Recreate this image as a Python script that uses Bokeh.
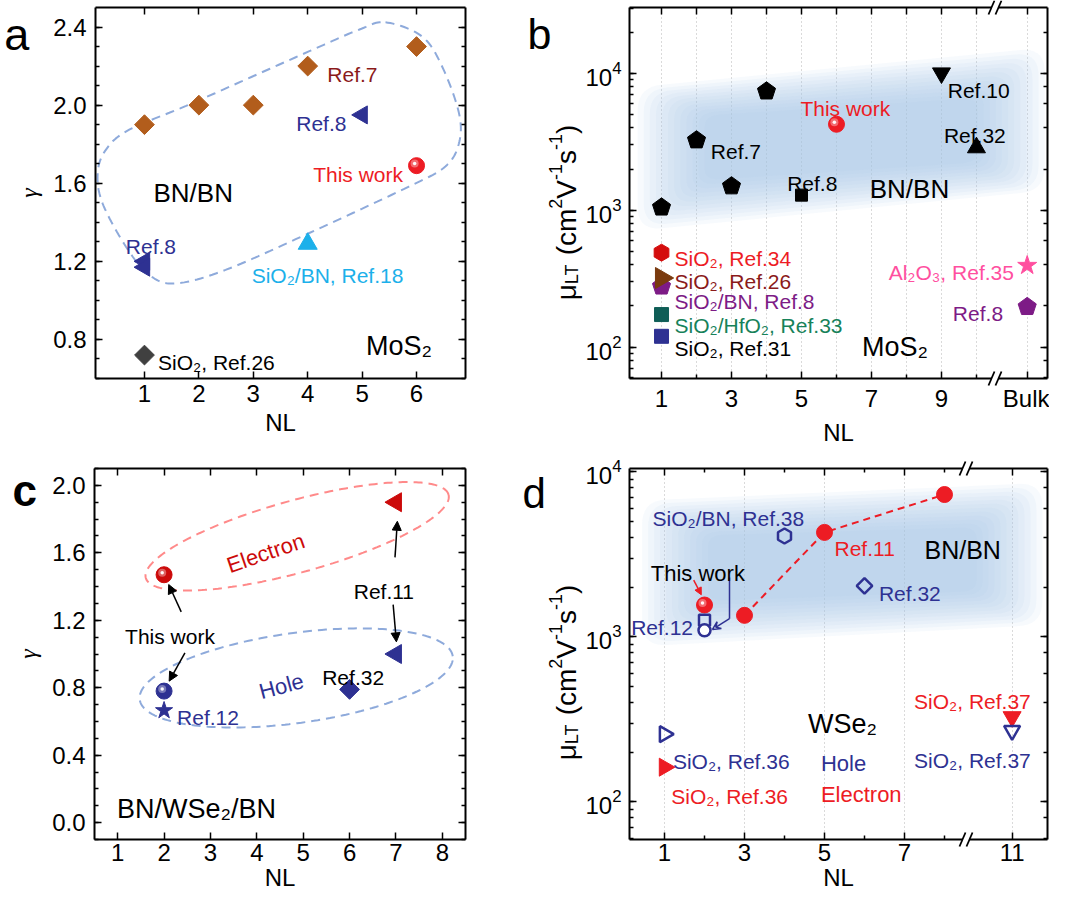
import math
import numpy as np
from bokeh.plotting import figure
from bokeh.models import (Label, Arrow, NormalHead, VeeHead, LinearAxis, LogAxis, GridBox,
                          FixedTicker, SingleIntervalTicker, NumeralTickFormatter, Range1d)
from bokeh.embed import file_html
from bokeh.resources import INLINE

FONT = "Liberation Sans"
NAVY = "#2e3192"; RED = "#ed1c24"; DRED = "#cc0a0a"; BROWN = "#b25d1c"; MAROON = "#8b1a1a"
CYAN = "#1cb0ea"; GRAY = "#404040"; PURPLE = "#7d1b86"; TEAL = "#0f5e57"; GREEN = "#17825a"
PINK = "#ff4f9f"; LOOP = "#8eaadb"; PINKLOOP = "#ff8a8a"; BROWNTRI = "#7a3a0e"; SHADE = "#a9c7e6"

# ---------------- panel a : MoS2 gamma vs NL ----------------
A_NL_REF7 = [1, 2, 3, 4, 6]
A_G_REF7 = [1.90, 2.00, 2.00, 2.20, 2.30]
A_NL_REF8 = [5, 1, 1]
A_G_REF8 = [1.95, 1.20, 1.17]
A_NL_THIS = [6]
A_G_THIS = [1.69]
A_NL_REF18 = [4]
A_G_REF18 = [1.29]
A_NL_REF26 = [1]
A_G_REF26 = [0.72]
A_XTICKS = [1, 2, 3, 4, 5, 6]

# ---------------- panel b : MoS2 mobility ----------------
B_BULK = 11.45
B_NL_REF7 = [1, 2, 3, 4]
B_MU_REF7 = [1050, 3250, 1500, 7400]
B_NL_REF8 = [5]
B_MU_REF8 = [1290]
B_NL_THIS = [6]
B_MU_THIS = [4250]
B_NL_REF10 = [9]
B_MU_REF10 = [10050]
B_NL_REF32 = [10]
B_MU_REF32 = [2870]
B_NL_REF34 = [1]
B_MU_REF34 = [490]
B_NL_REF26 = [1]
B_MU_REF26 = [320]
B_NL_REF8SB = [1, B_BULK]
B_MU_REF8SB = [278, 197]
B_NL_REF33 = [1]
B_MU_REF33 = [173]
B_NL_REF31 = [1]
B_MU_REF31 = [120]
B_NL_REF35 = [B_BULK]
B_MU_REF35 = [395]
B_XTICKS = [1, 3, 5, 7, 9, B_BULK]
B_XMINOR = [2, 4, 6, 8, 10]
B_XTOP = [1, 2, 3, 4, 5, 6, 7, 8, 9, 10, B_BULK]
B_XLABELS = {B_BULK: "Bulk"}

# ---------------- panel c : WSe2 gamma ----------------
C_NL_E_THIS = [2]
C_G_E_THIS = [1.47]
C_NL_E_REF11 = [7]
C_G_E_REF11 = [1.90]
C_NL_H_THIS = [2]
C_G_H_THIS = [0.78]
C_NL_H_REF12 = [2]
C_G_H_REF12 = [0.665]
C_NL_H_REF32 = [6]
C_G_H_REF32 = [0.79]
C_NL_H_REF11 = [7]
C_G_H_REF11 = [1.00]
C_XTICKS = [1, 2, 3, 4, 5, 6, 7, 8]

# ---------------- panel d : WSe2 mobility ----------------
D_BREAK_SHIFT = 1.31   # NL = 11 is drawn after the axis break
D_NL_E_REF11 = [3, 5, 8]
D_MU_E_REF11 = [1350, 4300, 7300]
D_NL_E_THIS = [2]
D_MU_E_THIS = [1560]
D_NL_H_REF12 = [2]
D_MU_H_REF12 = [1260]
D_NL_H_THIS = [2]
D_MU_H_THIS = [1095]
D_NL_H_REF38 = [4]
D_MU_H_REF38 = [4090]
D_NL_H_REF32 = [6]
D_MU_H_REF32 = [2040]
D_NL_H_REF36 = [1]
D_MU_H_REF36 = [257]
D_NL_E_REF36 = [1]
D_MU_E_REF36 = [162]
D_NL_E_REF37 = [11]
D_MU_E_REF37 = [327]
D_NL_H_REF37 = [11]
D_MU_H_REF37 = [270]
D_XTICKS_NL = [1, 3, 5, 7, 11]
D_XMINOR = [2, 4, 6, 8]


def dpos(nl):
    return [v - D_BREAK_SHIFT if v > 9 else v for v in nl]


# ---------------- helpers ----------------
def make_fig(w, h, xr, yr, L, R, T_, B, ylog=False):
    p = figure(width=w, height=h, x_range=Range1d(*xr), y_range=Range1d(*yr),
               y_axis_type="log" if ylog else "linear", output_backend="svg",
               toolbar_location=None, min_border_left=L, min_border_right=R,
               min_border_top=T_, min_border_bottom=B, frame_align=False)
    p.outline_line_color = None
    p.background_fill_color = "white"
    p.border_fill_color = "white"
    p.xgrid.visible = False
    p.ygrid.visible = False
    return p


def style_axis(ax, labels=True):
    ax.axis_line_width = 2
    ax.axis_line_color = "black"
    ax.major_tick_in = 7
    ax.major_tick_out = 0
    ax.minor_tick_in = 4
    ax.minor_tick_out = 0
    ax.major_tick_line_width = 1.5
    ax.minor_tick_line_width = 1.5
    ax.major_tick_line_color = "black"
    ax.minor_tick_line_color = "black"
    ax.major_label_text_font = FONT
    ax.major_label_text_font_size = "24px"
    ax.axis_label_text_font = FONT
    ax.axis_label_text_font_style = "normal"
    ax.axis_label_text_font_size = "24px"
    ax.axis_label_text_color = "black"
    if labels:
        ax.major_label_text_color = "black"
        ax.major_label_standoff = 6
    else:
        ax.major_label_text_color = None
        ax.major_label_standoff = 0


def T(p, x, y, text, color="black", size=21, align="left", angle=0.0, bold=False,
      baseline="alphabetic", x_off=0, y_off=0):
    p.add_layout(Label(x=x, y=y, text=text, text_color=color, text_font=FONT,
                       text_font_size=f"{size}px", text_align=align, text_baseline=baseline,
                       angle=angle, x_offset=x_off, y_offset=y_off,
                       text_font_style="bold" if bold else "normal"))


def sphere(p, xs, ys, color, size=16, dx=0.0, fy=1.0, dy=0.0):
    p.scatter(xs, ys, marker="circle", size=size, fill_color=color, line_color=color)
    hx = [x + dx for x in xs]
    hy = [y * fy + dy for y in ys]
    p.scatter(hx, hy, marker="circle", size=size * 0.5, fill_color="white",
              fill_alpha=0.35, line_color=None)
    p.scatter(hx, hy, marker="circle", size=size * 0.22, fill_color="white",
              fill_alpha=0.95, line_color=None)


def catmull_closed(xs, ys, n=14):
    pts = list(zip(xs, ys))
    N = len(pts)
    ox, oy = [], []
    for i in range(N):
        p0, p1, p2, p3 = pts[i - 1], pts[i], pts[(i + 1) % N], pts[(i + 2) % N]
        for t in np.linspace(0, 1, n, endpoint=False):
            t2, t3 = t * t, t * t * t
            v = []
            for k in (0, 1):
                v.append(0.5 * (2 * p1[k] + (-p0[k] + p2[k]) * t
                                + (2 * p0[k] - 5 * p1[k] + 4 * p2[k] - p3[k]) * t2
                                + (-p0[k] + 3 * p1[k] - 3 * p2[k] + p3[k]) * t3))
            ox.append(v[0]); oy.append(v[1])
    ox.append(ox[0]); oy.append(oy[0])
    return ox, oy


def rounded_poly_px(corners, r, n=10):
    out = []
    N = len(corners)
    for i in range(N):
        C = np.array(corners[i], float)
        P = np.array(corners[i - 1], float)
        Nx = np.array(corners[(i + 1) % N], float)
        d1 = (P - C) / np.linalg.norm(P - C)
        d2 = (Nx - C) / np.linalg.norm(Nx - C)
        A = C + d1 * r
        Bp = C + d2 * r
        for t in np.linspace(0, 1, n):
            out.append((1 - t) ** 2 * A + 2 * (1 - t) * t * C + t ** 2 * Bp)
    return np.array(out)


def shade(p, corners, xr, yr, fw, fh, r=24):
    sx = fw / (xr[1] - xr[0])
    sy = fh / (math.log10(yr[1]) - math.log10(yr[0]))
    cpx = [((x - xr[0]) * sx, (math.log10(y) - math.log10(yr[0])) * sy) for x, y in corners]
    poly = rounded_poly_px(cpx, r)
    cen = poly.mean(axis=0)
    for k in range(12):
        q = cen + (poly - cen) * np.array([1 - 0.03 * k, 1 - 0.05 * k])
        xs = list(q[:, 0] / sx + xr[0])
        ys = list(10 ** (q[:, 1] / sy + math.log10(yr[0])))
        p.patch(xs, ys, fill_color=SHADE, fill_alpha=0.09, line_color=None)


# ================= panel a =================
AXR, AYR = (0.1, 6.9), (0.6, 2.5)
pa = make_fig(522, 450, AXR, AYR, 95, 57, 7, 72)
ax_b = pa.below[0]; ax_l = pa.left[0]
ax_b.ticker = FixedTicker(ticks=A_XTICKS, minor_ticks=[])
ax_l.ticker = SingleIntervalTicker(interval=0.4, num_minor_ticks=4)
ax_l.formatter = NumeralTickFormatter(format="0.0")
ax_t = LinearAxis(ticker=FixedTicker(ticks=A_XTICKS, minor_ticks=[]))
ax_r = LinearAxis(ticker=SingleIntervalTicker(interval=0.4, num_minor_ticks=4))
pa.add_layout(ax_t, "above"); pa.add_layout(ax_r, "right")
for a in (ax_b, ax_l): style_axis(a)
for a in (ax_t, ax_r): style_axis(a, False)
ax_b.axis_label = "NL"; ax_b.axis_label_standoff = 4
ax_l.axis_label = "γ"; ax_l.axis_label_text_font = "Liberation Serif"
ax_l.axis_label_text_font_style = "italic"; ax_l.axis_label_standoff = 8
ax_l.major_label_standoff = 9

A_LOOP_X = [5.43, 6.10, 6.47, 6.78, 6.78, 6.53, 5.86, 4.02, 2.49, 1.575, 1.09, 0.66, 0.23, 0.14, 0.29, 0.72, 1.88, 4.02, 4.94]
A_LOOP_Y = [2.424, 2.352, 2.198, 1.959, 1.805, 1.686, 1.583, 1.344, 1.156, 1.087, 1.130, 1.275, 1.497, 1.651, 1.771, 1.874, 2.010, 2.275, 2.386]
lx, ly = catmull_closed(A_LOOP_X, A_LOOP_Y)
pa.line(lx, ly, line_color=LOOP, line_width=2, line_dash="9 6")

pa.scatter(A_NL_REF7, A_G_REF7, marker="square", angle=math.pi / 4, size=14,
           fill_color=BROWN, line_color=BROWN)
pa.scatter(A_NL_REF8, A_G_REF8, marker="triangle", angle=math.pi / 2, size=18,
           fill_color=NAVY, line_color=NAVY)
pa.scatter(A_NL_REF18, A_G_REF18, marker="triangle", size=19, fill_color=CYAN, line_color=CYAN)
pa.scatter(A_NL_REF26, A_G_REF26, marker="square", angle=math.pi / 4, size=14,
           fill_color=GRAY, line_color=GRAY)
sphere(pa, A_NL_THIS, A_G_THIS, RED, 16, dx=-0.035, dy=0.011)

T(pa, 4.36, 2.159, "Ref.7", MAROON)
T(pa, 3.79, 1.904, "Ref.8", NAVY)
T(pa, 4.10, 1.646, "This work", RED)
T(pa, 1.165, 1.552, "BN/BN", "black", 26)
T(pa, 0.657, 1.278, "Ref.8", NAVY)
T(pa, 2.97, 1.125, "SiO₂/BN, Ref.18", CYAN)
T(pa, 1.25, 0.68, "SiO₂, Ref.26", "black")
T(pa, 5.07, 0.765, "MoS₂", "black", 27)

# ================= panel b =================
BXR, BYR = (0.085, 12.03), (59, 30300)
pb = make_fig(527, 450, BXR, BYR, 107, 2, 7, 72, ylog=True)
bx_b = pb.below[0]; bx_l = pb.left[0]
bx_b.ticker = FixedTicker(ticks=B_XTICKS, minor_ticks=B_XMINOR)
bx_b.formatter = NumeralTickFormatter(format="0")
bx_b.major_label_overrides = B_XLABELS
bx_t = LinearAxis(ticker=FixedTicker(ticks=B_XTOP, minor_ticks=[]))
bx_r = LogAxis()
pb.add_layout(bx_t, "above"); pb.add_layout(bx_r, "right")
for a in (bx_b, bx_l): style_axis(a)
for a in (bx_t, bx_r): style_axis(a, False)
bx_b.axis_label = "NL"; bx_b.axis_label_standoff = 4
bx_l.major_label_standoff = 8
pb.xgrid.visible = True
pb.xgrid.ticker = FixedTicker(ticks=B_XTICKS, minor_ticks=B_XMINOR)
pb.xgrid.grid_line_color = "#b5b5b5"; pb.xgrid.grid_line_dash = "1 3"
pb.xgrid.minor_grid_line_color = "#b5b5b5"; pb.xgrid.minor_grid_line_dash = "1 3"

B_SHADE = [(0.317, 7950), (11.95, 15400), (11.95, 1390), (0.317, 711)]
shade(pb, B_SHADE, BXR, BYR, 418, 371)

pb.ngon(x=B_NL_REF7, y=B_MU_REF7, radius=9.5, radius_units="screen", n=5,
        fill_color="black", line_color="black")
pb.scatter(B_NL_REF8, B_MU_REF8, marker="square", size=12, fill_color="black", line_color="black")
pb.scatter(B_NL_REF10, B_MU_REF10, marker="inverted_triangle", size=18, fill_color="black", line_color="black")
pb.scatter(B_NL_REF32, B_MU_REF32, marker="triangle", size=18, fill_color="black", line_color="black")
sphere(pb, B_NL_THIS, B_MU_THIS, RED, 16, dx=-0.06, fy=1.035)
pb.scatter(B_NL_REF34, B_MU_REF34, marker="hex", angle=math.pi / 6, size=17, fill_color="#d40d0d", line_color="#d40d0d")
pb.ngon(x=B_NL_REF8SB, y=B_MU_REF8SB, radius=9.5, radius_units="screen", n=5,
        fill_color=PURPLE, line_color=PURPLE)
pb.scatter(B_NL_REF26, B_MU_REF26, marker="triangle", angle=-math.pi / 2, size=21, fill_color=BROWNTRI, line_color=BROWNTRI)
pb.scatter(B_NL_REF33, B_MU_REF33, marker="square", size=14, fill_color=TEAL, line_color=TEAL)
pb.scatter(B_NL_REF31, B_MU_REF31, marker="square", size=14, fill_color=NAVY, line_color=NAVY)
pb.scatter(B_NL_REF35, B_MU_REF35, marker="star", size=20, fill_color=PINK, line_color=PINK)

T(pb, 9.18, 7460, "Ref.10")
T(pb, 4.97, 5550, "This work", RED)
T(pb, 2.41, 2680, "Ref.7")
T(pb, 9.07, 3540, "Ref.32")
T(pb, 4.59, 1570, "Ref.8")
T(pb, 6.95, 1430, "BN/BN", "black", 26)
T(pb, 1.37, 445, "SiO₂, Ref.34", RED)
T(pb, 1.37, 304, "SiO₂, Ref.26", MAROON)
T(pb, 1.37, 217, "SiO₂/BN, Ref.8", PURPLE)
T(pb, 1.37, 145, "SiO₂/HfO₂, Ref.33", GREEN)
T(pb, 1.37, 97, "SiO₂, Ref.31", "black")
T(pb, 11.07, 352, "Al₂O₃, Ref.35", PINK, align="right")
T(pb, 10.76, 177, "Ref.8", PURPLE, align="right")
T(pb, 6.73, 101, "MoS₂", "black", 27)

# ================= panel c =================
CXR, CYR = (0.5, 8.5), (-0.1, 2.1)
pc = make_fig(522, 449, CXR, CYR, 94, 57, 18, 60)
cx_b = pc.below[0]; cx_l = pc.left[0]
cx_b.ticker = FixedTicker(ticks=C_XTICKS, minor_ticks=[])
cx_l.ticker = SingleIntervalTicker(interval=0.4, num_minor_ticks=4)
cx_l.formatter = NumeralTickFormatter(format="0.0")
cx_t = LinearAxis(ticker=FixedTicker(ticks=C_XTICKS, minor_ticks=[]))
cx_r = LinearAxis(ticker=SingleIntervalTicker(interval=0.4, num_minor_ticks=4))
pc.add_layout(cx_t, "above"); pc.add_layout(cx_r, "right")
for a in (cx_b, cx_l): style_axis(a)
for a in (cx_t, cx_r): style_axis(a, False)
cx_b.major_label_standoff = 4
cx_b.axis_label = "NL"; cx_b.axis_label_standoff = 0
cx_l.axis_label = "γ"; cx_l.axis_label_text_font = "Liberation Serif"
cx_l.axis_label_text_font_style = "italic"; cx_l.axis_label_standoff = 8
cx_l.major_label_standoff = 9

C_SX = 371 / (CXR[1] - CXR[0]); C_SY = 371 / (CYR[1] - CYR[0])


def ell(cx, cy, a, b, deg):
    t = np.linspace(0, 2 * np.pi, 240)
    th = math.radians(deg)
    ex = a * np.cos(t) * math.cos(th) - b * np.sin(t) * math.sin(th)
    ey = a * np.cos(t) * math.sin(th) + b * np.sin(t) * math.cos(th)
    return list(cx + ex / C_SX), list(cy + ey / C_SY)


ex_, ey_ = ell(4.87, 1.698, 157, 36, 15.4)
pc.line(ex_, ey_, line_color=PINKLOOP, line_width=2, line_dash="9 6")
ex_, ey_ = ell(4.85, 0.858, 158, 45, 7.9)
pc.line(ex_, ey_, line_color=LOOP, line_width=2, line_dash="9 6")

sphere(pc, C_NL_E_THIS, C_G_E_THIS, DRED, 16, dx=-0.04, dy=0.012)
pc.scatter(C_NL_E_REF11, C_G_E_REF11, marker="triangle", angle=math.pi / 2, size=19, fill_color=DRED, line_color=DRED)
sphere(pc, C_NL_H_THIS, C_G_H_THIS, NAVY, 16, dx=-0.04, dy=0.012)
pc.scatter(C_NL_H_REF12, C_G_H_REF12, marker="star", size=18, fill_color=NAVY, line_color=NAVY)
pc.scatter(C_NL_H_REF32, C_G_H_REF32, marker="square", angle=math.pi / 4, size=14, fill_color=NAVY, line_color=NAVY)
pc.scatter(C_NL_H_REF11, C_G_H_REF11, marker="triangle", angle=math.pi / 2, size=19, fill_color=NAVY, line_color=NAVY)

for (x0, y0, x1, y1) in [(2.37, 1.25, 2.10, 1.412), (2.45, 1.007, 2.11, 0.839),
                         (6.98, 1.573, 7.03, 1.787), (6.94, 1.293, 7.01, 1.072)]:
    pc.add_layout(Arrow(x_start=x0, y_start=y0, x_end=x1, y_end=y1, line_width=1.5,
                        line_color="black",
                        end=NormalHead(size=9, fill_color="black", line_color="black")))

T(pc, 2.28, 0.621, "Ref.12", NAVY)
T(pc, 5.41, 0.863, "Ref.32")
T(pc, 6.09, 1.372, "Ref.11")
T(pc, 1.16, 1.105, "This work")
T(pc, 4.19, 1.599, "Electron", DRED, 22, align="center", angle=0.33, baseline="middle")
T(pc, 4.53, 0.809, "Hole", NAVY, 22, align="center", angle=0.26, baseline="middle")
T(pc, 0.985, 0.079, "BN/WSe₂/BN", "black", 27)

# ================= panel d =================
DXR, DYR = (0.125, 10.575), (59, 10500)
pd_ = make_fig(527, 449, DXR, DYR, 107, 2, 18, 60, ylog=True)
dx_b = pd_.below[0]; dx_l = pd_.left[0]
DT = dpos(D_XTICKS_NL)
dx_b.ticker = FixedTicker(ticks=DT, minor_ticks=D_XMINOR)
dx_b.formatter = NumeralTickFormatter(format="0")
dx_b.major_label_overrides = {DT[-1]: str(D_XTICKS_NL[-1])}
dx_t = LinearAxis(ticker=FixedTicker(ticks=DT, minor_ticks=D_XMINOR))
dx_r = LogAxis()
pd_.add_layout(dx_t, "above"); pd_.add_layout(dx_r, "right")
for a in (dx_b, dx_l): style_axis(a)
for a in (dx_t, dx_r): style_axis(a, False)
dx_b.major_label_standoff = 4
dx_b.axis_label = "NL"; dx_b.axis_label_standoff = 0
dx_l.major_label_standoff = 8
pd_.xgrid.visible = True
pd_.xgrid.ticker = FixedTicker(ticks=DT, minor_ticks=[])
pd_.xgrid.grid_line_color = "#b5b5b5"; pd_.xgrid.grid_line_dash = "1 3"

D_SHADE = [(0.44, 6700), (10.45, 8600), (10.45, 1183), (0.44, 877)]
shade(pd_, D_SHADE, DXR, DYR, 418, 371)

pd_.line(dpos(D_NL_E_REF11), D_MU_E_REF11, line_color=RED, line_width=2, line_dash="7 5")
pd_.scatter(dpos(D_NL_E_REF11), D_MU_E_REF11, marker="circle", size=16, fill_color=RED, line_color=RED)
sphere(pd_, dpos(D_NL_E_THIS), D_MU_E_THIS, RED, 16, dx=-0.05, fy=1.03)
pd_.scatter(dpos(D_NL_H_REF12), D_MU_H_REF12, marker="square", size=11, fill_color=None, line_color=NAVY, line_width=2.5)
pd_.scatter(dpos(D_NL_H_THIS), D_MU_H_THIS, marker="circle", size=12, fill_color="white", line_color=NAVY, line_width=2.5)
pd_.scatter(dpos(D_NL_H_REF38), D_MU_H_REF38, marker="hex", angle=math.pi / 6, size=15, fill_color=None, line_color=NAVY, line_width=2.5)
pd_.scatter(dpos(D_NL_H_REF32), D_MU_H_REF32, marker="square", angle=math.pi / 4, size=11, fill_color=None, line_color=NAVY, line_width=2.5)
pd_.scatter(dpos(D_NL_H_REF36), D_MU_H_REF36, marker="triangle", angle=-math.pi / 2, size=16, fill_color=None, line_color=NAVY, line_width=2.5)
pd_.scatter(dpos(D_NL_E_REF36), D_MU_E_REF36, marker="triangle", angle=-math.pi / 2, size=18, fill_color=RED, line_color=RED)
pd_.scatter(dpos(D_NL_E_REF37), D_MU_E_REF37, marker="inverted_triangle", size=18, fill_color=RED, line_color=RED)
pd_.scatter(dpos(D_NL_H_REF37), D_MU_H_REF37, marker="inverted_triangle", size=16, fill_color=None, line_color=NAVY, line_width=2.5)

pd_.add_layout(Arrow(x_start=1.73, y_start=2210, x_end=1.92, y_end=1800, line_width=1.5, line_color=RED,
                     end=NormalHead(size=7, fill_color=RED, line_color=RED)))
pd_.line([2.625, 2.625], [2290, 1290], line_color=NAVY, line_width=1.5)
pd_.add_layout(Arrow(x_start=2.625, y_start=1290, x_end=2.2, y_end=1110, line_width=1.5, line_color=NAVY,
                     end=VeeHead(size=8, line_color=NAVY, line_width=1.5, fill_color=None)))

T(pd_, 0.70, 5210, "SiO₂/BN, Ref.38", NAVY)
T(pd_, 5.25, 3430, "Ref.11", RED)
T(pd_, 7.5, 3350, "BN/BN", "black", 25)
T(pd_, 0.657, 2420, "This work", "black", 22)
T(pd_, 0.167, 1137, "Ref.12", NAVY)
T(pd_, 6.36, 1830, "Ref.32", NAVY)
T(pd_, 4.59, 298, "WSe₂", "black", 27)
T(pd_, 4.91, 171, "Hole", NAVY, 22)
T(pd_, 4.91, 110, "Electron", RED, 22)
T(pd_, 1.21, 176, "SiO₂, Ref.36", NAVY)
T(pd_, 1.17, 107, "SiO₂, Ref.36", RED)
T(pd_, 7.24, 403, "SiO₂, Ref.37", RED)
T(pd_, 7.24, 179, "SiO₂, Ref.37", NAVY)

# ================= transparent overlay for texts outside the frames =================
OW, OH = 1049, 899
ov = figure(width=OW, height=OH, x_range=Range1d(0, OW), y_range=Range1d(OH, 0),
            output_backend="svg", toolbar_location=None, min_border=0,
            min_border_left=0, min_border_right=0, min_border_top=0, min_border_bottom=0,
            x_axis_type=None, y_axis_type=None, frame_align=False)
ov.outline_line_color = None
ov.background_fill_color = None
ov.border_fill_color = None

W = {"μ": 576, "L": 556, "T": 611, " ": 278, "(": 333, "c": 500, "m": 833, "2": 556,
     "V": 667, "-": 333, "1": 556, "s": 500, ")": 333}


def tw(s, f):
    return sum(W[ch] for ch in s) * f / 1000.0


def mu_label(x0, y0, big=28, small=18):
    # (text, font size, shift across the baseline, extra gap before the piece)
    pieces = [("μ", big, 0, 0), ("LT", small, 5, 0), ("(cm", big, 0, tw(" ", big)),
              ("2", small, -11, 0), ("V", big, 0, 0), ("-1", small, -11, 0),
              ("s", big, 0, 0), ("-1", small, -11, 0), (")", big, 0, 0)]
    total = sum(tw(s, f) + g for s, f, _, g in pieces)
    off = -total / 2
    for s, f, dx, g in pieces:
        off += g
        T(ov, x0, y0, s, "black", f, "left", math.pi / 2, x_off=dx, y_off=off)
        off += tw(s, f)


def break_mark(cx, cy):
    ov.patch([cx - 7, cx - 1, cx + 6, cx], [cy + 7, cy - 7, cy - 7, cy + 7],
             fill_color="white", line_color=None)
    ov.segment(x0=[cx - 7, cx], y0=[cy + 7, cy + 7], x1=[cx - 1, cx + 6], y1=[cy - 7, cy - 7],
               line_color="black", line_width=1.8)


T(ov, 3.7, 33.7, "a", "black", 45)
T(ov, 527, 33, "b", "black", 43)
T(ov, 12, 490, "c", "black", 44, bold=True)
T(ov, 522, 493, "d", "black", 42)
mu_label(566, 212)
mu_label(566, 672)
for (cx, cy) in [(995, 7), (995, 378), (966, 468), (966, 839)]:
    break_mark(cx, cy)

layout = GridBox(children=[(pa, 0, 0), (pb, 0, 1), (pc, 1, 0), (pd_, 1, 1), (ov, 0, 0, 2, 2)])
open("out.html", "w").write(file_html(layout, INLINE))
